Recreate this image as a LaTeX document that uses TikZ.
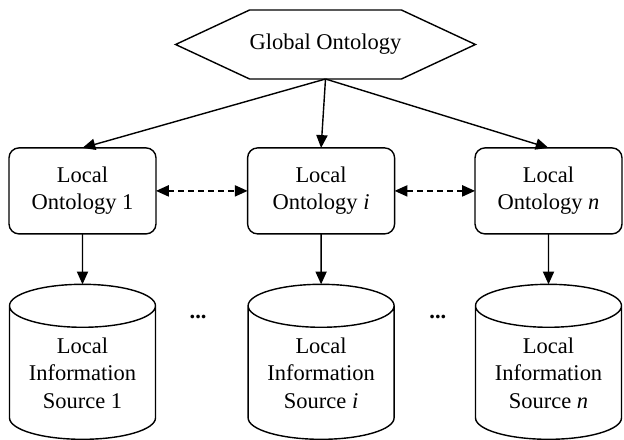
\documentclass[tikz,border=0pt]{standalone}
\usepackage{fontspec}
\setmainfont{Liberation Serif}
\usetikzlibrary{positioning,shapes.symbols,shapes.geometric,arrows.meta}

\begin{document}
\begin{tikzpicture}
[every node/.style={draw=black,line width=1pt,inner sep=0mm,outer sep=0mm,align=center,font=\fontsize{16}{19.5}\selectfont},
 onto/.style={rectangle,rounded corners=2.5mm,minimum width=36.75mm,minimum height=21.5mm},
 glob/.style={signal,signal to=west and east,signal pointer angle=50,minimum width=74.75mm,minimum height=17.25mm},
 src/.style={cylinder,shape border rotate=90,aspect=0.4,minimum width=36.5mm,minimum height=38.75mm},
 dots/.style={draw=none,font=\fontsize{16}{19.5}\selectfont\bfseries},
 link/.style={-{Triangle[length=3.2mm,width=2.8mm]}},
 peer/.style={{Triangle[length=3.2mm,width=2.8mm]}-{Triangle[length=3.2mm,width=2.8mm]},dash pattern=on 1.5mm off 1mm},
 line width=1pt]
\useasboundingbox (0,0) rectangle (156mm,-109.75mm);
\node[glob] (glob) at (81.375mm,-11.125mm)                   {Global Ontology};
\node[onto] (lo1) [on grid,below left=36.6mm and 60.75mm of glob] {Local\\Ontology 1};
\node[onto] (loi) [on grid,below left=36.6mm and 1.1mm of glob]   {Local\\Ontology \textit{i}};
\node[onto] (lon) [on grid,below right=36.6mm and 55.75mm of glob] {Local\\Ontology \textit{n}};
\node[src]  (src1) [on grid,below=45.5mm of lo1] {Local\\Information\\Source 1};
\node[src]  (srci) [on grid,below=45.5mm of loi] {Local\\Information\\Source \textit{i}};
\node[src]  (srcn) [on grid,below=45.5mm of lon] {Local\\Information\\Source \textit{n}};
\node[dots] (dots1) [on grid,above right=14mm and 28.9mm of src1] {...};
\node[dots] (dots2) [on grid,above right=14mm and 29.2mm of srci] {...};
\path[link] (glob.south) edge (lo1.north);
\path[link] (glob.south) edge (loi.north);
\path[link] (glob.south) edge (lon.north);
\path[peer] (lo1) edge (loi);
\path[peer] (loi) edge (lon);
\path[link] (lo1) edge (src1);
\path[link] (loi) edge (srci);
\path[link] (lon) edge (srcn);
\end{tikzpicture}
\end{document}
